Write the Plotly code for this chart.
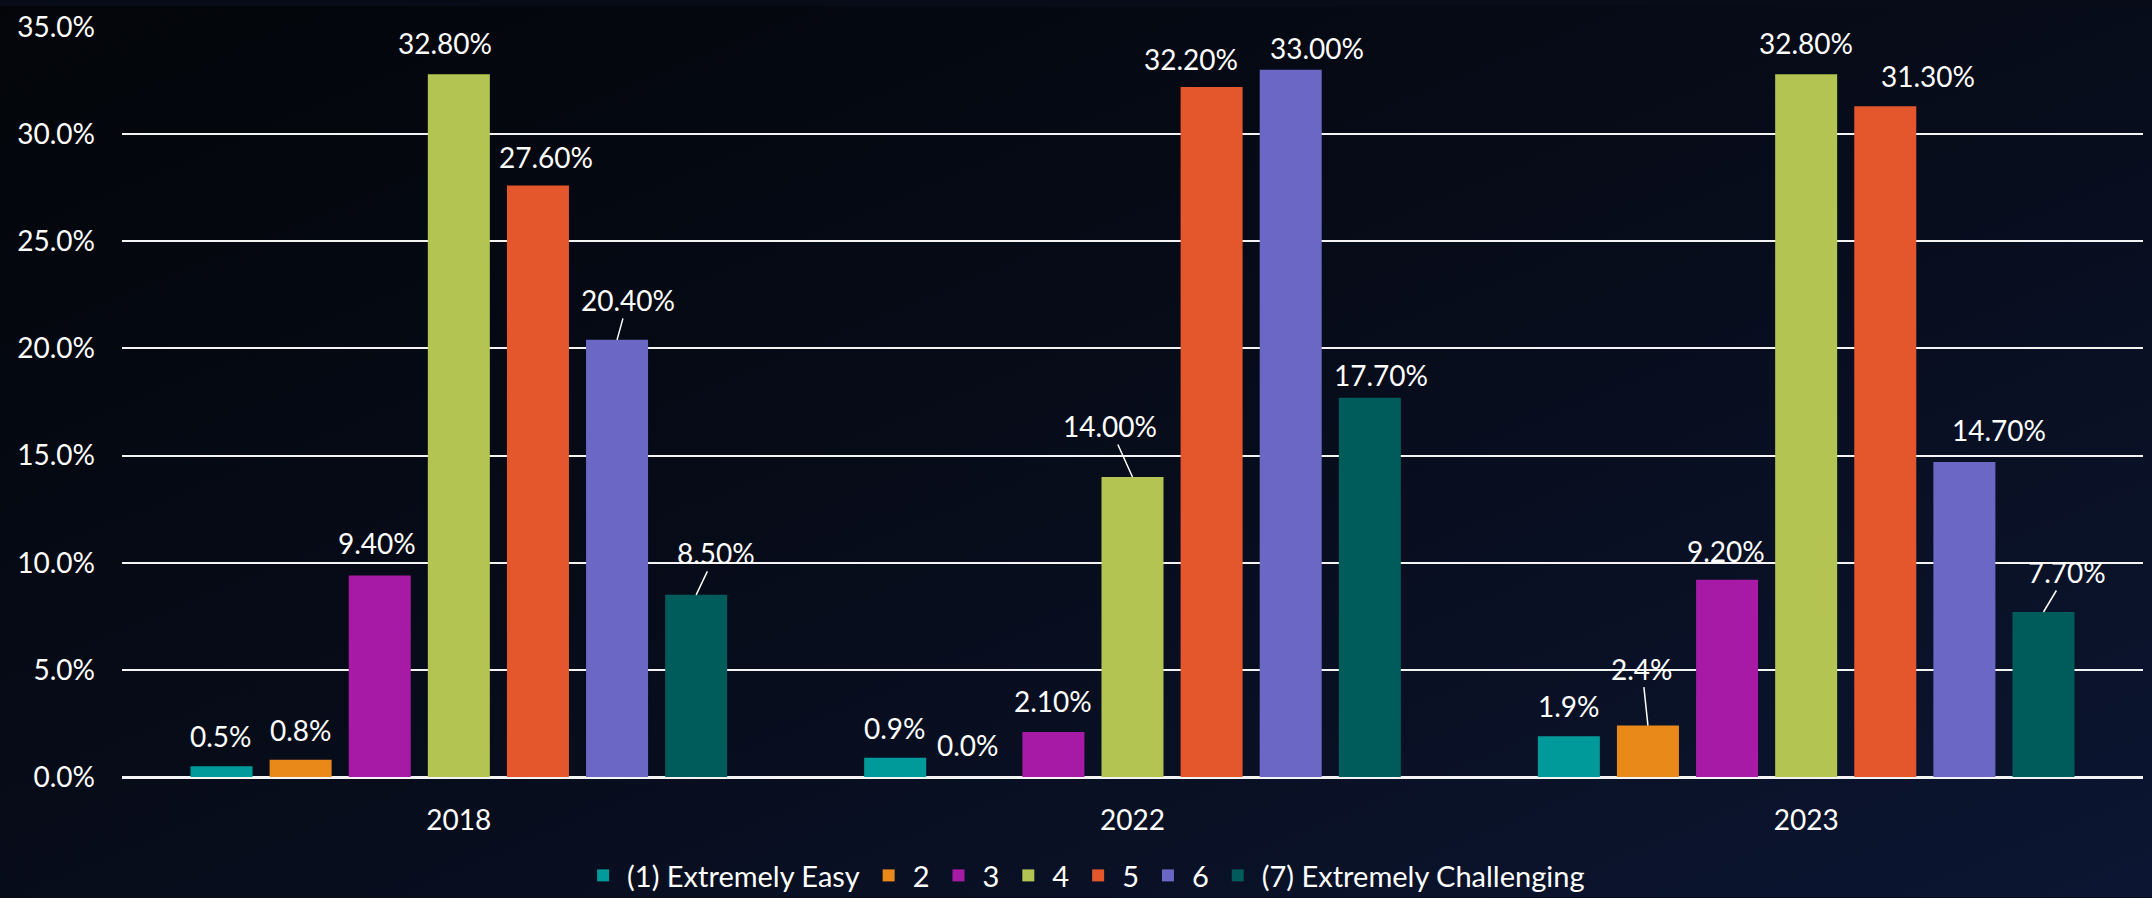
import plotly.graph_objects as go

# ---- data ----
years = ["2018", "2022", "2023"]
series_names = ["(1) Extremely Easy", "2", "3", "4", "5", "6", "(7) Extremely Challenging"]
easy_1 = [0.5, 0.9, 1.9]
rating_2 = [0.8, 0.0, 2.4]
rating_3 = [9.4, 2.1, 9.2]
rating_4 = [32.8, 14.0, 32.8]
rating_5 = [27.6, 32.2, 31.3]
rating_6 = [20.4, 33.0, 14.7]
challenging_7 = [8.5, 17.7, 7.7]
series_values = [easy_1, rating_2, rating_3, rating_4, rating_5, rating_6, challenging_7]
label_decimals = [1, 1, 2, 2, 2, 2, 2]
y_ticks = [0, 5, 10, 15, 20, 25, 30, 35]

# ---- styles ----
colors = ["#009a9a", "#e8891a", "#a61aa6", "#b3c452", "#e4572d", "#6a68c4", "#005b5b"]
# label offsets (px) from bar top, and whether a leader line is drawn
label_offsets = [
    [(-1, -30), (0, -30), (0, -30)],
    [(0, -30), (-6, -32), (-6, -57)],
    [(-3, -33), (0, -31), (-1, -29)],
    [(-14, -31), (-23, -51), (0, -31)],
    [(8, -29), (-21, -28), (43, -30)],
    [(11, -40), (26, -22), (35, -32)],
    [(20, -42), (11, -23), (24, -40)],
]
leaders = [
    [False, False, False],
    [False, False, True],
    [False, False, False],
    [False, True, False],
    [False, False, False],
    [True, False, False],
    [True, False, True],
]
FONT = "Lato"
bargap = 0.178
bargroupgap = 0.216

W, H = 2152, 898
ML, MR, MT, MB = 122, 9, 21, 121

fig = go.Figure()
for name, vals, col in zip(series_names, series_values, colors):
    fig.add_trace(go.Bar(x=years, y=vals, name=name, marker=dict(color=col, line=dict(width=0))))

n = len(series_names)
slot = (1 - bargap) / n
annotations = []
for j, vals in enumerate(series_values):
    for i, v in enumerate(vals):
        dx, dy = label_offsets[j][i]
        annotations.append(dict(
            x=i + (j - (n - 1) / 2) * slot, y=v, xref="x", yref="y",
            text=f"{v:.{label_decimals[j]}f}%",
            showarrow=True, ax=dx, ay=dy,
            arrowhead=0, arrowwidth=1.5, standoff=0,
            arrowcolor="white" if leaders[j][i] else "rgba(0,0,0,0)",
            font=dict(family=FONT, size=28, color="white"),
        ))

pw = W - ML - MR
ph = H - MT - MB
svg = ("data:image/svg+xml;utf8,"
       "<svg xmlns='http://www.w3.org/2000/svg' width='2152' height='898' preserveAspectRatio='none'>"
       "<defs><linearGradient id='g' x1='0' y1='0' x2='1' y2='1'>"
       "<stop offset='0' stop-color='%23030509'/><stop offset='0.5' stop-color='%23070c1a'/>"
       "<stop offset='1' stop-color='%230c1632'/></linearGradient></defs>"
       "<rect width='2152' height='898' fill='url(%23g)'/></svg>")

fig.update_layout(
    width=W, height=H,
    margin=dict(l=ML, r=MR, t=MT, b=MB),
    paper_bgcolor="#070c18", plot_bgcolor="rgba(0,0,0,0)",
    barmode="group", bargap=bargap, bargroupgap=bargroupgap,
    font=dict(family=FONT, size=28, color="white"),
    images=[dict(source=svg, xref="paper", yref="paper",
                 x=-ML / pw, y=1 + MT / ph, sizex=W / pw, sizey=H / ph,
                 xanchor="left", yanchor="top", sizing="stretch", layer="below")],
    xaxis=dict(showgrid=False, ticks="", ticklabelstandoff=24,
               tickfont=dict(family=FONT, size=28, color="white"), showline=False),
    yaxis=dict(range=[0, 35], tickvals=y_ticks, ticktext=[f"{t:.1f}%" for t in y_ticks],
               showgrid=True, gridcolor="#f4f4f4", gridwidth=2,
               zeroline=True, zerolinecolor="#f4f4f4", zerolinewidth=2.5,
               ticks="", ticklabelstandoff=26,
               tickfont=dict(family=FONT, size=28, color="white")),
    legend=dict(orientation="h", xref="container", yref="container",
                x=0.504, xanchor="center", y=0.025, yanchor="middle",
                font=dict(family=FONT, size=29, color="white"),
                itemwidth=38,
                bgcolor="rgba(0,0,0,0)"),
    annotations=annotations,
    showlegend=True,
)

fig.write_html("out.html", config={"displayModeBar": False},
               post_script="document.body.style.margin='0';document.body.style.overflow='hidden';")
